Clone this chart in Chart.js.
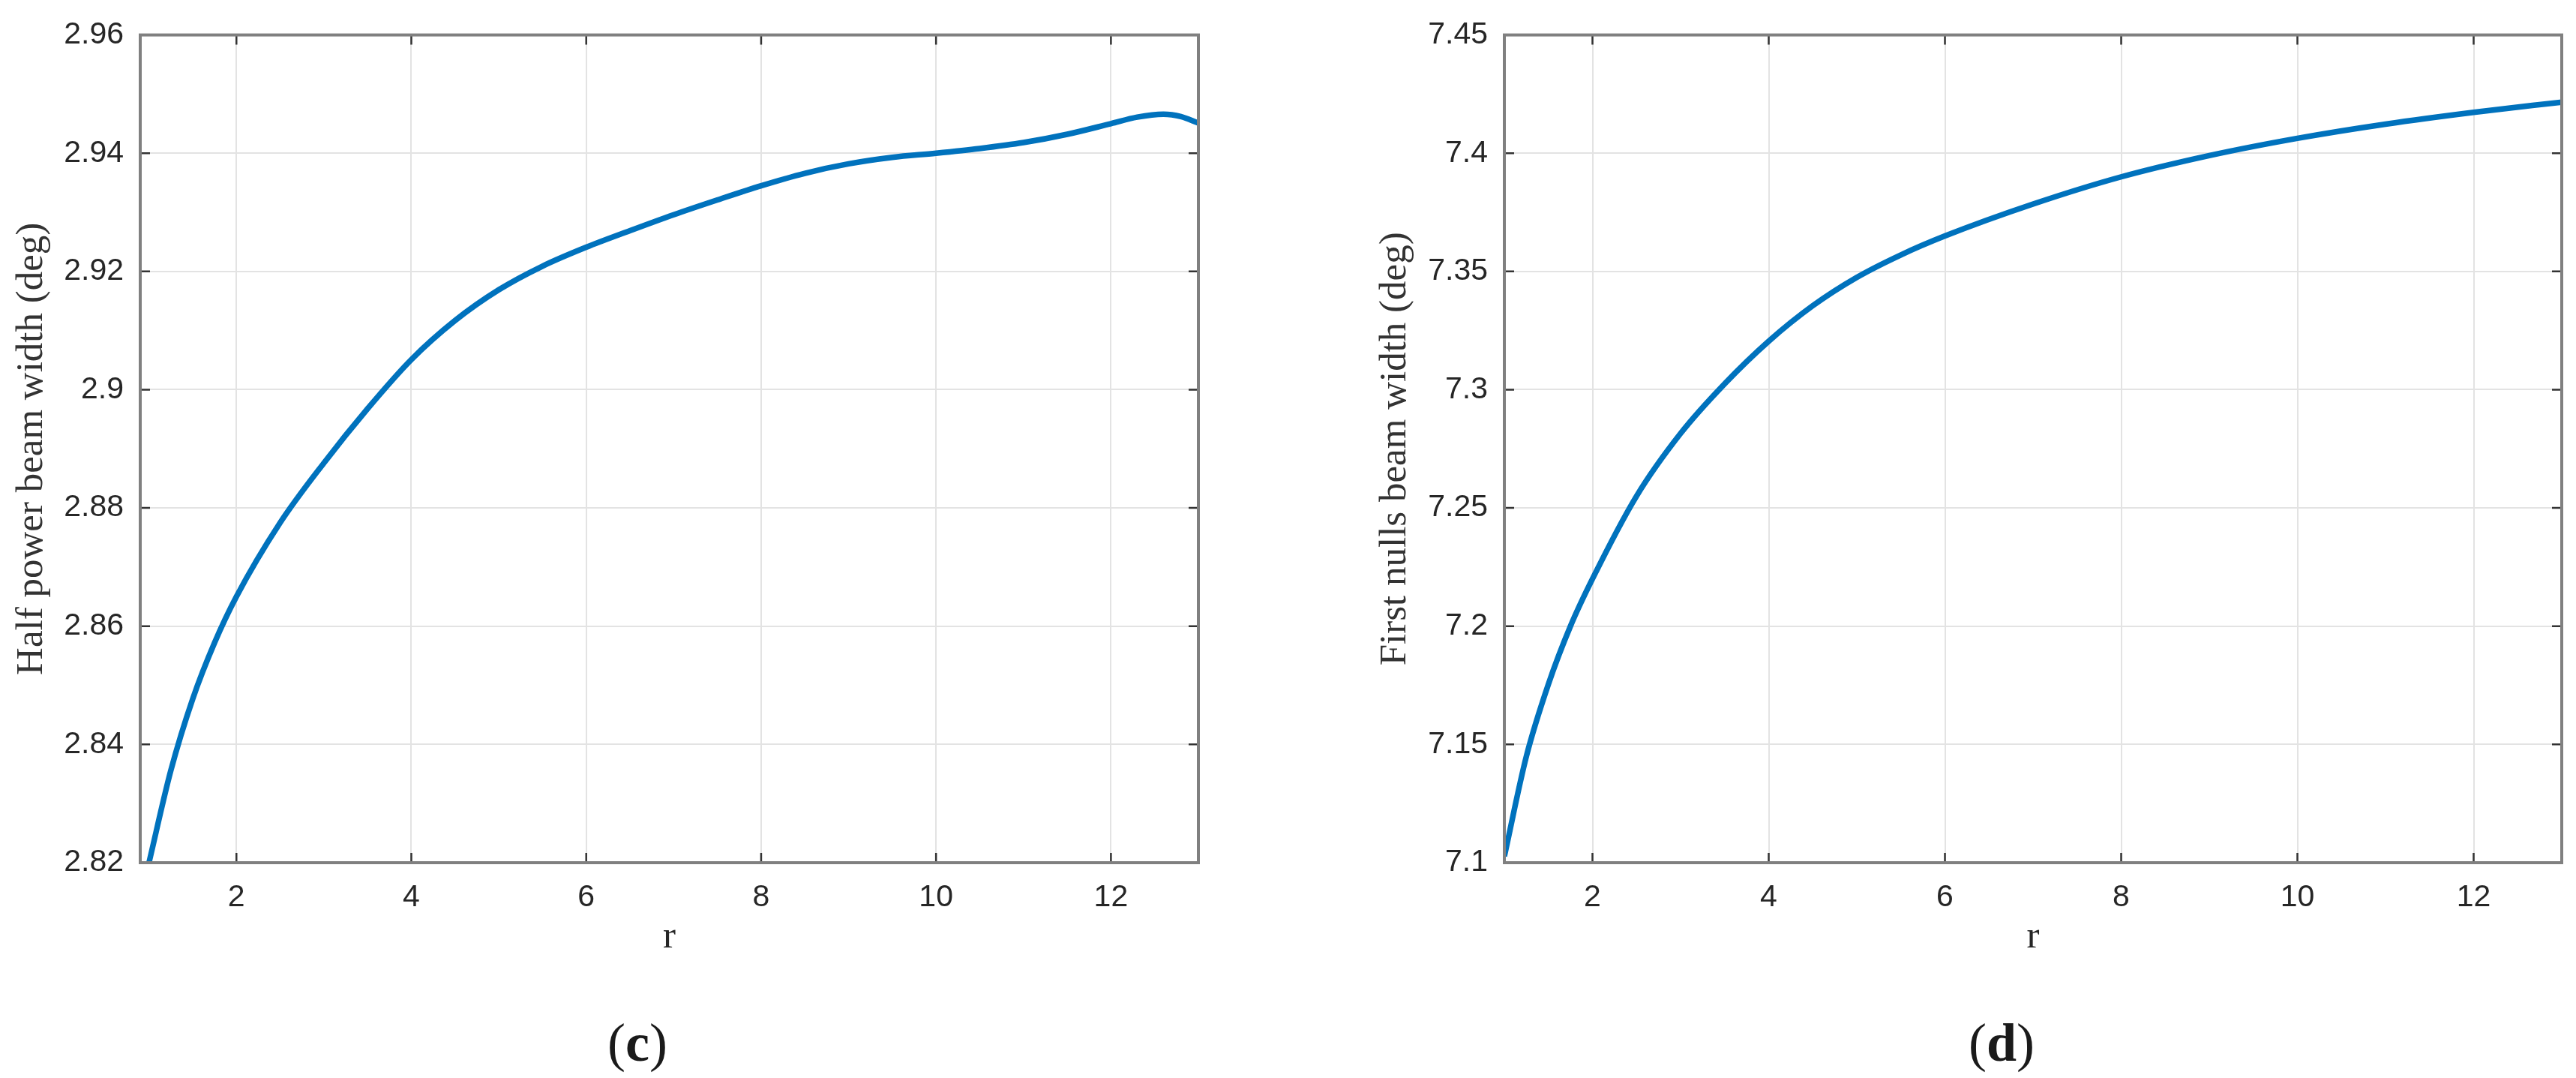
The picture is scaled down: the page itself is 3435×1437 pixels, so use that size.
<!DOCTYPE html>
<html>
<head>
<meta charset="utf-8">
<script src="https://cdn.jsdelivr.net/npm/chart.js@4"></script>
<style>
  html, body { margin: 0; padding: 0; background: #ffffff; }
  body { width: 3435px; height: 1437px; position: relative; overflow: hidden; }
  canvas { position: absolute; top: 0; }
  .cap { position: absolute; font-family: "Liberation Serif", "Times New Roman", serif; font-size: 72px; color: #1a1a1a; transform: translate(-50%, -50%); white-space: nowrap; line-height: 1; }
</style>
</head>
<body>
<canvas id="c1" width="1717" height="1437" style="left:0px"></canvas>
<canvas id="c2" width="1718" height="1437" style="left:1717px"></canvas>
<div class="cap" style="left:850px; top:1390px;">(<b>c</b>)</div>
<div class="cap" style="left:2669px; top:1390px;">(<b>d</b>)</div>
<script>
// ---- data ----
const rLeft = [1, 1.25, 1.5, 1.75, 2, 2.5, 3, 3.5, 4, 4.5, 5, 5.5, 6, 6.5, 7, 7.5, 8, 8.5, 9, 9.5, 10, 10.5, 11, 11.5, 12, 12.3, 12.6, 12.8, 13];
const halfPowerBW = [2.8200, 2.8356, 2.8477, 2.8572, 2.8650, 2.8775, 2.8876, 2.8968, 2.9051, 2.9117, 2.9169, 2.9209, 2.9241, 2.9269, 2.9296, 2.9321, 2.9345, 2.9366, 2.9382, 2.9393, 2.9400, 2.9408, 2.9418, 2.9432, 2.9450, 2.9461, 2.9466, 2.9462, 2.9451];

const rRight = [1, 1.25, 1.5, 1.75, 2, 2.5, 3, 3.5, 4, 4.5, 5, 5.5, 6, 7, 8, 9, 10, 11, 12, 13];
const firstNullsBW = [7.1027, 7.1450, 7.1755, 7.2000, 7.2200, 7.2550, 7.2815, 7.3025, 7.3205, 7.3355, 7.3475, 7.3570, 7.3650, 7.3785, 7.3900, 7.3990, 7.4063, 7.4123, 7.4173, 7.4216];

const xTicks = [2, 4, 6, 8, 10, 12];
const xTickLabels = ["2", "4", "6", "8", "10", "12"];
const yTicksLeft = [2.82, 2.84, 2.86, 2.88, 2.90, 2.92, 2.94, 2.96];
const yTickLabelsLeft = ["2.82", "2.84", "2.86", "2.88", "2.9", "2.92", "2.94", "2.96"];
const yTicksRight = [7.10, 7.15, 7.20, 7.25, 7.30, 7.35, 7.40, 7.45];
const yTickLabelsRight = ["7.1", "7.15", "7.2", "7.25", "7.3", "7.35", "7.4", "7.45"];

const xTitle = "r";
const yTitleLeft = "Half power beam width (deg)";
const yTitleRight = "First nulls beam width (deg)";

// ---- styling ----
Chart.defaults.font.family = "'Liberation Sans', Arial, sans-serif";
const tickFont = { family: "'Liberation Sans', Arial, sans-serif", size: 41 };
const titleFont = { family: "'Liberation Serif', 'Times New Roman', serif", size: 51 };
const textColor = "#262626";

const boxPlugin = {
  id: 'matlabBox',
  afterDraw(chart) {
    const { ctx, chartArea: a, scales } = chart;
    const xs = scales.x, ys = scales.y;
    ctx.save();
    ctx.strokeStyle = '#333333';
    ctx.lineWidth = 2.5;
    ctx.beginPath();
    xs.ticks.forEach(t => {
      const px = xs.getPixelForValue(t.value);
      ctx.moveTo(px, a.bottom); ctx.lineTo(px, a.bottom - 13);
      ctx.moveTo(px, a.top); ctx.lineTo(px, a.top + 13);
    });
    ys.ticks.forEach(t => {
      const py = ys.getPixelForValue(t.value);
      ctx.moveTo(a.left, py); ctx.lineTo(a.left + 13, py);
      ctx.moveTo(a.right, py); ctx.lineTo(a.right - 13, py);
    });
    ctx.stroke();
    ctx.strokeStyle = '#808080';
    ctx.lineWidth = 4;
    ctx.strokeRect(a.left, a.top, a.right - a.left, a.bottom - a.top);
    ctx.restore();
  }
};

function makeChart(id, rs, vals, xMin, yTicks, yLabels, yTitle, pad, yWidth) {
  const pts = rs.map((r, i) => ({ x: r, y: vals[i] }));
  return new Chart(document.getElementById(id), {
    type: 'line',
    data: {
      datasets: [{
        data: pts,
        borderColor: '#0072BD',
        borderWidth: 7.5,
        pointRadius: 0,
        fill: false,
        cubicInterpolationMode: 'monotone',
        clip: 0
      }]
    },
    options: {
      responsive: false,
      animation: false,
      devicePixelRatio: 1,
      layout: { padding: pad },
      plugins: { legend: { display: false }, tooltip: { enabled: false }, title: { display: false } },
      scales: {
        x: {
          type: 'linear',
          min: xMin, max: 13,
          afterBuildTicks: s => { s.ticks = xTicks.map(v => ({ value: v })); },
          afterFit: s => { s.height = 140; },
          ticks: {
            autoSkip: false, maxRotation: 0, minRotation: 0,
            padding: 22, color: textColor, font: tickFont,
            callback: (v) => { const i = xTicks.indexOf(v); return i >= 0 ? xTickLabels[i] : ''; }
          },
          grid: { color: '#e3e3e3', lineWidth: 2, drawTicks: false },
          border: { display: false },
          title: { display: true, text: xTitle, color: textColor, font: titleFont, padding: { top: 0, bottom: 10 } }
        },
        y: {
          type: 'linear',
          min: yTicks[0], max: yTicks[yTicks.length - 1],
          afterBuildTicks: s => { s.ticks = yTicks.map(v => ({ value: v })); },
          afterFit: s => { s.width = yWidth; },
          ticks: {
            autoSkip: false, padding: 22, color: textColor, font: tickFont,
            callback: (v) => {
              let i = -1;
              yTicks.forEach((t, k) => { if (Math.abs(t - v) < 1e-9) i = k; });
              return i >= 0 ? yLabels[i] : '';
            }
          },
          grid: { color: '#e3e3e3', lineWidth: 2, drawTicks: false },
          border: { display: false },
          title: { display: true, text: yTitle, color: '#333333', font: titleFont, padding: { top: 12.4, bottom: 0 } }
        }
      }
    },
    plugins: [boxPlugin]
  });
}

makeChart('c1', rLeft, halfPowerBW, 0.9, yTicksLeft, yTickLabelsLeft, yTitleLeft,
  { left: 0, right: 119, top: 38, bottom: 147 }, 187);
makeChart('c2', rRight, firstNullsBW, 1, yTicksRight, yTickLabelsRight, yTitleRight,
  { left: 101, right: 19, top: 38, bottom: 147 }, 188);
</script>
</body>
</html>
